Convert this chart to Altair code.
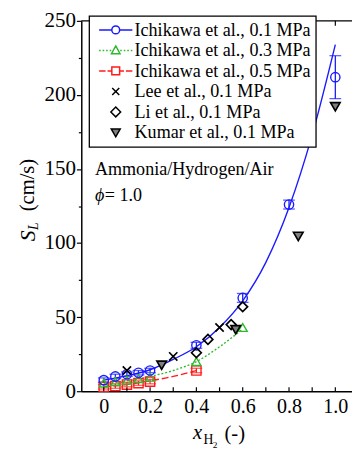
import altair as alt
import pandas as pd

# ---------------- data ----------------
series_names = ["Ichikawa et al., 0.1 MPa", "Ichikawa et al., 0.3 MPa",
                "Ichikawa et al., 0.5 MPa", "Lee et al., 0.1 MPa",
                "Li et al., 0.1 MPa", "Kumar et al., 0.1 MPa"]

x_ich01 = [0, 0.05, 0.1, 0.15, 0.2, 0.4, 0.6, 0.8, 1.0]
sl_ich01 = [7.5, 10, 11.5, 12.5, 14, 31, 63, 126, 212]
err_ich01 = [1.5, 1.5, 1.5, 1.5, 1.5, 2, 3, 3, 14.5]

x_ich03 = [0, 0.05, 0.1, 0.15, 0.2, 0.4, 0.6]
sl_ich03 = [5.5, 6.5, 7.5, 8.5, 9.5, 20, 43]

x_ich05 = [0, 0.05, 0.1, 0.15, 0.2, 0.4]
sl_ich05 = [3, 3.5, 4.5, 5.5, 6.5, 14]
err_ich05 = [1.5, 1.5, 1.5, 1.5, 1.5, 1.5]

x_lee = [0.1, 0.3, 0.5]
sl_lee = [14, 23.5, 43]

x_li = [0.4, 0.45, 0.55, 0.6]
sl_li = [26, 35, 45, 57]

x_kumar = [0.25, 0.57, 0.84, 1.0]
sl_kumar = [17.5, 41.5, 104.5, 192]

# fitted curves
fit01_x = [0, 0.1, 0.2, 0.3, 0.4, 0.5, 0.6, 0.7, 0.8, 0.9, 1.0]
fit01_y = [7.5, 10.5, 14.5, 21.5, 30, 43, 61, 87, 124, 173, 234]
fit03_x = [0, 0.1, 0.2, 0.3, 0.4, 0.5, 0.6]
fit03_y = [5, 7, 10, 14, 20, 30, 42]
fit05_x = [0, 0.1, 0.2, 0.3, 0.4]
fit05_y = [3, 4.5, 7, 10, 14]

x_tick_values = [0, 0.2, 0.4, 0.6, 0.8, 1.0]
x_minor_ticks = [0, 0.1, 0.2, 0.3, 0.4, 0.5, 0.6, 0.7, 0.8, 0.9, 1.0]
y_tick_values = [0, 25, 50, 75, 100, 125, 150, 175, 200, 225, 250]

# ---------------- styling ----------------
W, H = 277, 379
FONT = "Liberation Serif"
BLUE = "#1a1aff"
GREEN = "#2eb82e"
RED = "#ff1a1a"
GRAY = "#7f7f7f"

XSCALE = alt.Scale(domain=[-0.097, 1.072], nice=False, zero=False)
YSCALE = alt.Scale(domain=[0, 250], nice=False, zero=False)

XAXIS = alt.Axis(values=x_tick_values, title=None, ticks=False, tickSize=0,
                 labelExpr="datum.value === 0 ? '0' : format(datum.value, '.1f')",
                 labelFont=FONT, labelFontSize=20.5, labelColor="black",
                 labelPadding=6, domainColor="black", domainWidth=1.5,
                 grid=False, labelFlush=False)
YAXIS = alt.Axis(values=y_tick_values, title=None,
                 labelExpr="datum.value % 50 === 0 ? datum.label : ''",
                 tickSize={"condition": {"test": "datum.value % 50 !== 0", "value": 3}, "value": 5},
                 tickColor="black", tickWidth=1.2,
                 labelFont=FONT, labelFontSize=21.5, labelColor="black",
                 labelPadding=1, domainColor="black", domainWidth=1.5,
                 grid=False, labelFlush=False)


def xe(field="x"):
    return alt.X(f"{field}:Q", scale=XSCALE, axis=XAXIS)


def ye(field="y"):
    return alt.Y(f"{field}:Q", scale=YSCALE, axis=YAXIS)


def df(xs, ys, errs=None):
    d = pd.DataFrame({"x": xs, "y": ys})
    if errs is not None:
        d["lo"] = [a - b for a, b in zip(ys, errs)]
        d["hi"] = [a + b for a, b in zip(ys, errs)]
    return d


d01 = df(x_ich01, sl_ich01, err_ich01)
d03 = df(x_ich03, sl_ich03)
d05 = df(x_ich05, sl_ich05, err_ich05)

layers = []

# curves
layers.append(alt.Chart(df(fit01_x, fit01_y)).mark_line(
    color=BLUE, strokeWidth=1.4, interpolate="monotone").encode(x=xe(), y=ye()))
layers.append(alt.Chart(df(fit03_x, fit03_y)).mark_line(
    color=GREEN, strokeWidth=1.4, strokeDash=[2, 2], interpolate="monotone").encode(x=xe(), y=ye()))
layers.append(alt.Chart(df(fit05_x, fit05_y)).mark_line(
    color=RED, strokeWidth=1.4, strokeDash=[7, 3], interpolate="monotone").encode(x=xe(), y=ye()))

# error bars
for d, c in [(d01, BLUE), (d05, RED)]:
    layers.append(alt.Chart(d).mark_rule(color=c, strokeWidth=1.3).encode(
        x=xe(), y=ye("lo"), y2="hi:Q"))
    for f in ["lo", "hi"]:
        layers.append(alt.Chart(d).mark_tick(color=c, orient="horizontal", size=12,
                                             thickness=1.3).encode(x=xe(), y=ye(f)))

# markers
layers.append(alt.Chart(d05).mark_point(shape="square", size=90, color=RED, filled=False,
                                        strokeWidth=1.4, opacity=1).encode(x=xe(), y=ye()))
layers.append(alt.Chart(d03).mark_point(shape="triangle-up", size=85, color=GREEN, filled=False,
                                        strokeWidth=1.4, opacity=1).encode(x=xe(), y=ye()))
layers.append(alt.Chart(d01).mark_point(shape="circle", size=90, color=BLUE, filled=False,
                                        strokeWidth=1.4, opacity=1).encode(x=xe(), y=ye()))
layers.append(alt.Chart(df(x_lee, sl_lee)).mark_point(
    shape="M-1,-1L1,1M-1,1L1,-1", size=72, color="black", filled=False,
    strokeWidth=1.7, opacity=1).encode(x=xe(), y=ye()))
layers.append(alt.Chart(df(x_li, sl_li)).mark_point(
    shape="diamond", size=100, color="black", filled=False,
    strokeWidth=1.7, opacity=1).encode(x=xe(), y=ye()))
layers.append(alt.Chart(df(x_kumar, sl_kumar)).mark_point(
    shape="triangle-down", size=95, filled=True, fill=GRAY, stroke="black",
    strokeWidth=1.7, opacity=1, fillOpacity=1).encode(x=xe(), y=ye()))

# frame: top line with inward ticks, bottom inward ticks
layers.append(alt.Chart(pd.DataFrame({"x": [0]})).mark_rule(color="black", strokeWidth=1.3).encode(
    x=alt.value(0), x2=alt.value(W), y=alt.value(0)))
layers.append(alt.Chart(pd.DataFrame({"x": x_tick_values})).mark_rule(color="black", strokeWidth=1.2).encode(
    x=xe(), y=alt.value(0), y2=alt.value(5)))
layers.append(alt.Chart(pd.DataFrame({"x": x_minor_ticks})).mark_rule(color="black", strokeWidth=1.2).encode(
    x=xe(), y=alt.value(H), y2=alt.value(H - 4)))

# legend (custom symbols: line + marker)
legend_shapes = [
    "M-4.25,0H-1M1,0H4.25M1,0A1,1 0 1,1 -1,0A1,1 0 1,1 1,0",
    "M-4.25,0H-3.85M-3.35,0H-2.95M-2.45,0H-2.05M-1.55,0H-1.15M1.15,0H1.55M2.05,0H2.45M2.95,0H3.35M3.85,0H4.25M0,-1.15L1.1,0.85H-1.1Z",
    "M-4.25,0H-2.6M-2.1,0H-1M1,0H2.1M2.6,0H4.25M-1,-1H1V1H-1Z",
    "M-0.9,-0.9L0.9,0.9M-0.9,0.9L0.9,-0.9",
    "M0,-1.25L1.25,0L0,1.25L-1.25,0Z",
    "M-1.15,-0.9H1.15L0,1.1Z",
]
legend_strokes = [BLUE, GREEN, RED, "black", "black", "black"]
legend_fills = ["transparent", "transparent", "transparent", "transparent", "transparent", GRAY]

LEG = alt.Legend(orient="none", legendX=8, legendY=-5, title=None,
                 symbolSize=64, symbolStrokeWidth=1.5, symbolOffset=13,
                 labelFont=FONT, labelFontSize=18.5, labelColor="black",
                 labelOffset=10, labelLimit=400, padding=5, rowPadding=2,
                 strokeColor="black", fillColor="white")
leg_df = pd.DataFrame({"series": series_names})
layers.append(alt.Chart(leg_df).mark_point(size=64, strokeWidth=1.5, opacity=1).encode(
    x=alt.value(-500), y=alt.value(-500),
    shape=alt.Shape("series:N", scale=alt.Scale(domain=series_names, range=legend_shapes), legend=LEG),
    stroke=alt.Stroke("series:N", scale=alt.Scale(domain=series_names, range=legend_strokes), legend=LEG),
    fill=alt.Fill("series:N", scale=alt.Scale(domain=series_names, range=legend_fills), legend=LEG),
))

# annotations and axis titles (text)
def txt(s, x, y, size, style="normal", angle=0, align="left", baseline="alphabetic"):
    kw = dict(text=s, font=FONT, fontSize=size, fontStyle=style, align=align,
              baseline=baseline, color="black")
    if angle:
        kw["angle"] = angle
    return alt.Chart(pd.DataFrame({"t": [s]})).mark_text(**kw).encode(
        x=alt.value(x), y=alt.value(y))

layers += [
    txt("Ammonia/Hydrogen/Air", 14, 158, 18.5),
    txt("ϕ", 14, 184, 18.5, style="italic"),
    txt("= 1.0", 24, 184, 18.5),
    txt("(cm/s)", -54, 168, 21, angle=270, align="center", baseline="middle"),
    txt("S", -54, 220, 22, style="italic", angle=270, align="center", baseline="middle"),
    txt("L", -48, 210, 14, style="italic", angle=270, align="center", baseline="middle"),
    txt("x", 119, 428, 21, style="italic", align="center"),
    txt("H", 130, 433, 14, align="center"),
    txt("2", 137, 437, 9.5, align="center"),
    txt("(-)", 157, 429, 21, align="center"),
]

chart = alt.layer(*layers).properties(
    width=W, height=H,
    autosize=alt.AutoSizeParams(type="none"),
    padding={"left": 75, "top": 8, "right": 0, "bottom": 56},
).configure_view(stroke=None).configure_legend(strokeWidth=1.3)

chart.save("out.html", embed_options={"renderer": "svg", "actions": False})
